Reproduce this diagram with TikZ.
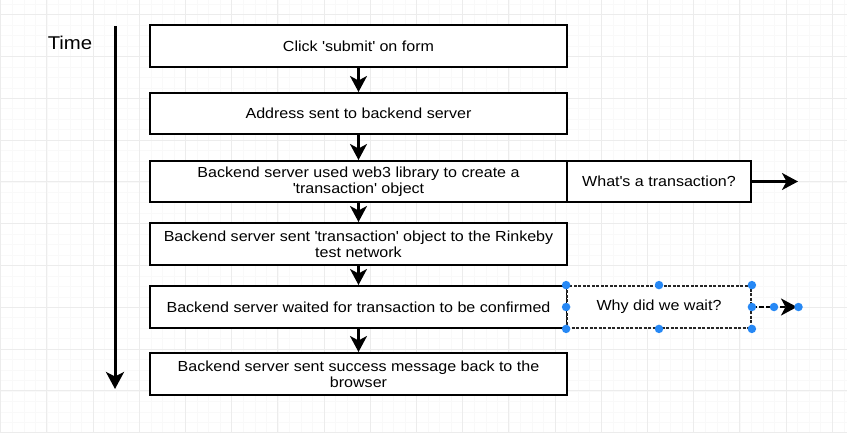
\documentclass[tikz,border=0pt]{standalone}
\usepackage{fontspec}
\setmainfont[FakeStretch=1.1]{Liberation Sans}
\usetikzlibrary{arrows.meta}
\definecolor{handle}{RGB}{38,136,245}
\definecolor{gridmaj}{gray}{0.925}
\definecolor{gridmin}{gray}{0.978}
\newcommand{\q}{\textquotesingle}
\tikzset{
  box/.style={draw=black, line width=2pt, fill=white, minimum height=41pt,
    align=center, inner sep=2pt, font=\fontsize{14.6}{16.3}\selectfont},
  wide/.style={minimum width=417pt},
  side/.style={minimum width=184pt},
  flow/.style={line width=2.2pt, -{Stealth[length=16pt,width=17pt,inset=4.5pt]}},
  timeline/.style={line width=3pt, -{Stealth[length=17pt,width=18pt,inset=4.5pt]}},
  selbox/.style={box, draw=black!85, line width=1.8pt, dash pattern=on 3pt off 1.5pt},
  hdl/.style={circle, fill=handle, inner sep=0pt, minimum size=8.5pt},
}
\begin{document}
\begin{tikzpicture}[x=1pt,y=-1pt]
\useasboundingbox (0,0) rectangle (847,433);
\fill[white] (0,0) rectangle (847,433);
% faint background grid
\foreach \i in {0,...,75} {
  \draw[gridmin, line width=0.6pt] ({0.7+11.55*\i},0) -- ({0.7+11.55*\i},433);
}
\foreach \j in {-3,...,42} {
  \draw[gridmin, line width=0.6pt] (0,{14.7+10.45*\j}) -- (847,{14.7+10.45*\j});
}
\foreach \i in {0,...,18} {
  \draw[gridmaj, line width=1pt] ({0.7+46.2*\i},0) -- ({0.7+46.2*\i},433);
}
\foreach \j in {-1,...,10} {
  \draw[gridmaj, line width=1pt] (0,{14.7+41.8*\j}) -- (847,{14.7+41.8*\j});
}

% time axis
\node[font=\fontsize{18.5}{20}\selectfont] (time) at (70,43) {Time};
\coordinate (t1) at (115,26);
\coordinate (t2) at (115,389);
\draw[timeline] (t1) -- (t2);

% boxes
\node[box, wide, minimum height=42pt] (b1) at (358.5,46) {Click \q submit\q{} on form};
\node[box, wide] (b2) at (358.5,113.5) {Address sent to backend server};
\node[box, wide] (b3) at (358.5,181.5) {Backend server used web3 library to create a\\\q transaction\q{} object};
\node[box, side] (b3r) at (659,181.5) {What\q s a transaction?};
\node[box, wide, minimum height=42pt] (b4) at (358.5,244) {Backend server sent \q transaction\q{} object to the Rinkeby\\test network};
\node[box, wide, minimum height=42pt] (b5) at (358.5,307) {Backend server waited for transaction to be confirmed};
\node[selbox, side, minimum height=42pt] (b5r) at (659,307) {Why did we wait?};
\node[box, wide, minimum height=42pt] (b6) at (358.5,374) {Backend server sent success message back to the\\browser};

% flow arrows
\draw[flow] (b1) -- (b2);
\draw[flow] (b2) -- (b3);
\draw[flow] (b3) -- (b4);
\draw[flow] (b4) -- (b5);
\draw[flow] (b5) -- (b6);

% side arrows
\coordinate (e3) at (798,181.5);
\draw[flow] (b3r.east) -- (e3);
\coordinate (e5) at (797,307);
\coordinate (m5) at (774,307);
\draw[flow, dash pattern=on 5pt off 2pt] (b5r.east) -- (e5);

% selection handles
\foreach \a in {north west,north,north east,west,east,south west,south,south east} {
  \node[hdl] at (b5r.\a) {};
}
\node[hdl] (h1) at (m5) {};
\node[hdl] (h2) at (798.5,307) {};
\end{tikzpicture}
\end{document}
